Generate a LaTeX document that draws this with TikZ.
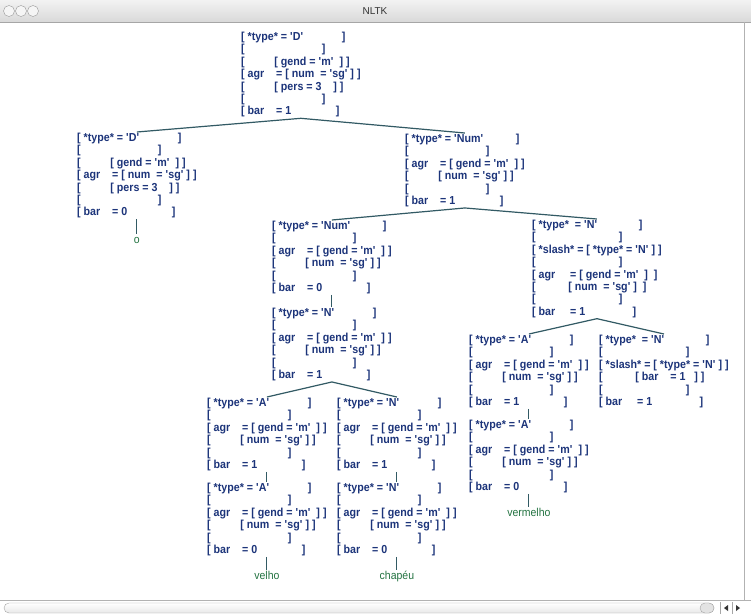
\documentclass[tikz,border=0pt]{standalone}
\usepackage{fontspec}
\setmainfont{Liberation Sans}
\newfontfamily\fsfont{Liberation Sans}[FakeStretch=0.92]
\usepackage{tikz}
\usetikzlibrary{positioning}

\definecolor{fsblue}{RGB}{28,52,122}
\definecolor{leafgreen}{RGB}{35,115,65}
\definecolor{edgegray}{RGB}{50,90,100}

\newcommand{\pd}[1]{\hspace*{#1\fontdimen2\font}}
\newcommand{\q}[1]{\textquotesingle#1\textquotesingle}
\newcommand{\fsd}[1]{[ *type* = \q{D}\pd{13}]\\{}[\pd{26}]\\{}[\pd{10}[ gend = \q{m}\pd2] ]\\{}[ agr\pd4= [ num\pd2= \q{sg} ] ]\\{}[\pd{10}[ pers = 3\pd4] ]\\{}[\pd{26}]\\{}[ bar\pd4= #1\pd{15}]}
\newcommand{\fsagr}[3]{[ *type* = \q{#1}\pd{#2}]\\{}[\pd{26}]\\{}[ agr\pd4= [ gend = \q{m}\pd2] ]\\{}[\pd{10}[ num\pd2= \q{sg} ] ]\\{}[\pd{26}]\\{}[ bar\pd4= #3\pd{15}]}

\begin{document}
\begin{tikzpicture}[x=1pt,y=-1pt,
	fs/.style={anchor=north west,align=left,inner sep=1pt,text=fsblue,font=\fsfont\fontsize{11.6}{12.35}\selectfont\bfseries},
	leaf/.style={inner sep=1pt,text height=8pt,text depth=2pt,text=leafgreen,font=\fsfont\fontsize{11.4}{12.35}\selectfont},
	edge/.style={edgegray,line width=1.2pt}]
	\useasboundingbox (0,0) rectangle (751,614);
	\fill[white] (0,0) rectangle (751,614);
	% window frame
	\shade[top color=gray!10,bottom color=gray!30] (0,0) rectangle (751,22);
	\draw[gray!70] (0,22) -- (751,22);
	\foreach \x in {9,21,33}
		\draw[gray!80,fill=gray!8] (\x,11) circle (5.5pt);
	\node[font=\fontsize{10}{12}\selectfont,text=black!80] (title) at (375,11) {NLTK};
	\draw[gray!60] (744,22) -- (744,600);
	\draw[gray!60] (0,600) -- (751,600);
	\draw[gray!70,top color=white,bottom color=gray!18,rounded corners=5pt] (4,603) rectangle (714,613);
	\draw[gray!70,fill=gray!22,rounded corners=5pt] (700,603) rectangle (714,613);
	\draw[gray!70] (720,602) -- (720,614) (732,602) -- (732,614);
	\fill[gray!40!black] (728,605) -- (724,608) -- (728,611) -- cycle;
	\fill[gray!40!black] (736,605) -- (740,608) -- (736,611) -- cycle;

	% feature structures
	\node[fs] (root) at (240,31) {\fsd{1}};
	\node[fs] (d0) at (76,132) {\fsd{0}};
	\node[fs] (num1) at (404,133) {\fsagr{Num}{11}{1}};
	\node[fs] (num0) at (271,220) {\fsagr{Num}{11}{0}};
	\node[fs] (nsl) at (531,219) {[ *type*\pd2= \q{N}\pd{14}]\\{}[\pd{28}]\\{}[ *slash* = [ *type* = \q{N} ] ]\\{}[\pd{28}]\\{}[ agr\pd5= [ gend = \q{m}\pd2]\pd2]\\{}[\pd{11}[ num\pd2= \q{sg} ]\pd2]\\{}[\pd{28}]\\{}[ bar\pd5= 1\pd{16}]};
	\node[fs] (n1) at (271,307) {\fsagr{N}{13}{1}};
	\node[fs] (a1r) at (468,334) {\fsagr{A}{13}{1}};
	\node[fs] (nsl2) at (598,334) {[ *type*\pd2= \q{N}\pd{14}]\\{}[\pd{28}]\\{}[ *slash* = [ *type* = \q{N} ] ]\\{}[\pd{11}[ bar\pd4= 1\pd3] ]\\{}[\pd{28}]\\{}[ bar\pd5= 1\pd{16}]};
	\node[fs] (a0r) at (468,419) {\fsagr{A}{13}{0}};
	\node[fs] (a1l) at (206,397) {\fsagr{A}{13}{1}};
	\node[fs] (n1l) at (336,397) {\fsagr{N}{13}{1}};
	\node[fs] (a0l) at (206,482) {\fsagr{A}{13}{0}};
	\node[fs] (n0l) at (336,482) {\fsagr{N}{13}{0}};

	% words
	\node[leaf,below=15pt of d0] (o) {o};
	\node[leaf,below=13pt of a0l] (velho) {velho};
	\node[leaf,below=13pt of n0l] (chapeu) {chapéu};
	\node[leaf,below=13pt of a0r] (vermelho) {vermelho};

	\foreach \p/\c in {root/d0,root/num1,num1/num0,num1/nsl,num0/n1,n1/a1l,n1/n1l,a1l/a0l,n1l/n0l,nsl/a1r,nsl/nsl2,a1r/a0r,d0/o,a0l/velho,n0l/chapeu,a0r/vermelho}
		\draw[edge] (\p.south) -- (\c.north);
\end{tikzpicture}
\end{document}
